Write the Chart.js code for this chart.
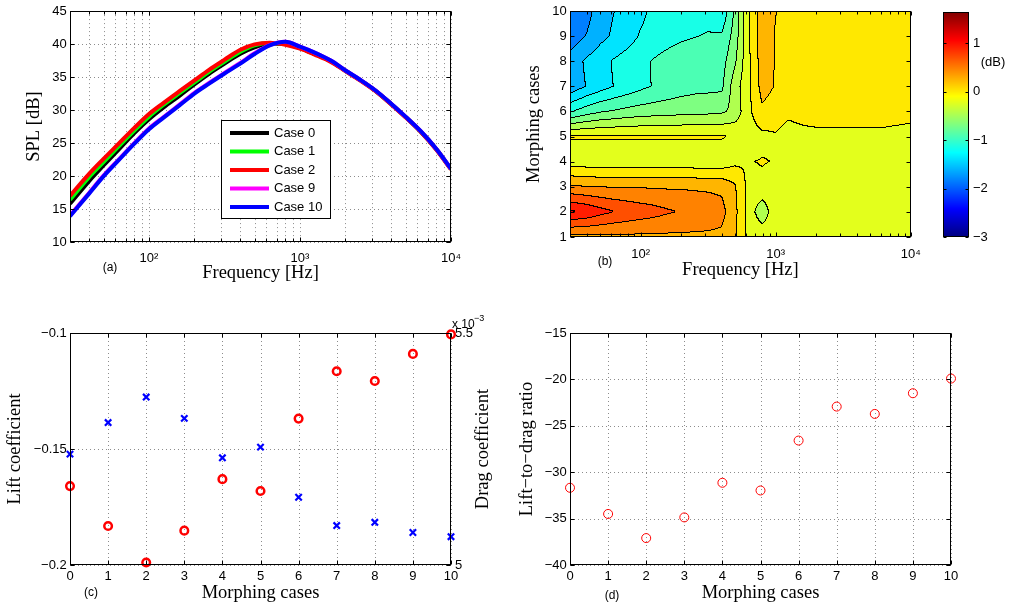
<!DOCTYPE html>
<html>
<head>
<meta charset="utf-8">
<title>Morphing cases - SPL and aerodynamic coefficients</title>
<script src="https://cdn.jsdelivr.net/npm/chart.js@4.4.1/dist/chart.umd.min.js"></script>
<style>
  body { margin: 0; background: #fff; width: 1011px; height: 610px; position: relative; overflow: hidden; }
  canvas { position: absolute; }
</style>
</head>
<body>
<canvas id="splChart" width="505" height="300" style="left:0px;top:0px"></canvas>
<canvas id="diffChart" width="425" height="300" style="left:505px;top:0px"></canvas>
<canvas id="barChart" width="81" height="300" style="left:930px;top:0px"></canvas>
<canvas id="coeffChart" width="505" height="310" style="left:0px;top:300px"></canvas>
<canvas id="ratioChart" width="506" height="310" style="left:505px;top:300px"></canvas>
<script>
// ---- (a) SPL spectra ----
const freqs = [30, 40, 50, 63, 80, 100, 125, 160, 200, 250, 315, 400, 500, 630, 800, 1000, 1250, 1600, 2000, 2500, 3150, 4000, 5000, 6300, 8000, 10000];
const splCase0 = [15.8, 19.2, 21.6, 24.0, 26.5, 28.6, 30.4, 32.2, 33.9, 35.5, 37.0, 38.5, 39.5, 40.1, 40.0, 39.4, 38.5, 37.4, 35.95, 34.55, 32.95, 30.95, 28.95, 26.75, 24.05, 21.05];
const splCase1 = [16.4, 19.8, 22.1, 24.5, 26.9, 29.0, 30.8, 32.6, 34.2, 35.8, 37.3, 38.8, 39.8, 40.15, 40.0, 39.4, 38.5, 37.4, 35.95, 34.55, 32.95, 30.95, 28.95, 26.75, 24.05, 21.05];
const splCase2 = [17.0, 20.3, 22.6, 24.9, 27.3, 29.4, 31.1, 32.9, 34.5, 36.1, 37.6, 39.1, 39.95, 40.2, 39.9, 39.3, 38.4, 37.3, 35.9, 34.5, 32.9, 30.9, 28.9, 26.7, 24.0, 21.0];
const splCase9 = [14.0, 17.4, 20.05, 22.5, 25.0, 27.2, 28.95, 30.85, 32.6, 34.1, 35.6, 37.1, 38.6, 39.85, 40.35, 39.6, 38.7, 37.5, 36.0, 34.6, 33.0, 31.0, 29.0, 26.8, 24.1, 21.1];
const splCase10 = [13.9, 17.3, 19.95, 22.4, 24.9, 27.1, 28.85, 30.75, 32.5, 34.0, 35.5, 37.0, 38.5, 39.8, 40.35, 39.6, 38.7, 37.5, 36.0, 34.6, 33.0, 31.0, 29.0, 26.8, 24.1, 21.1];
const caseLabels = ['Case 0', 'Case 1', 'Case 2', 'Case 9', 'Case 10'];
const caseColors = ['#000000', '#00ff00', '#ff0000', '#ff00ff', '#0000ff'];
const splTicks = [10, 15, 20, 25, 30, 35, 40, 45];
const freqTicks = [100, 1000, 10000];
const freqTickLabels = ['10\u00b2', '10\u00b3', '10\u2074'];

// ---- (b) SPL difference map (dB), one row per morphing case ----
const morphCases = [1, 2, 3, 4, 5, 6, 7, 8, 9, 10];
const diffCase1 = [0.41, 0.42, 0.43, 0.43, 0.43, 0.43, 0.43, 0.43, 0.43, 0.43, 0.43, 0.42, 0.28, -0.06, -0.02, -0.10, -0.10, -0.10, -0.10, -0.10, -0.10, -0.10, -0.10, -0.10, -0.10, -0.10];
const diffCase2 = [1.20, 1.12, 1.02, 0.94, 0.88, 0.83, 0.79, 0.73, 0.69, 0.65, 0.61, 0.55, 0.31, -0.06, -0.40, -0.04, -0.10, -0.10, -0.10, -0.10, -0.10, -0.10, -0.10, -0.10, -0.10, -0.10];
const diffCase3 = [0.50, 0.47, 0.46, 0.455, 0.45, 0.45, 0.445, 0.44, 0.44, 0.435, 0.43, 0.42, 0.27, -0.06, -0.03, -0.10, -0.10, -0.10, -0.10, -0.10, -0.10, -0.10, -0.10, -0.10, -0.10, -0.10];
const diffCase4 = [-0.12, -0.13, -0.14, -0.14, -0.14, -0.14, -0.14, -0.14, -0.14, -0.15, -0.15, -0.15, -0.05, 0.0, 0.02, 0.0, -0.10, -0.10, -0.10, -0.10, -0.10, -0.10, -0.10, -0.10, -0.10, -0.10];
const diffCase5 = [0.03, 0.03, 0.03, 0.03, 0.03, 0.03, 0.03, 0.03, 0.03, 0.03, 0.03, 0.03, -0.03, -0.10, -0.05, -0.01, -0.10, -0.06, -0.04, -0.04, -0.04, -0.04, -0.04, -0.04, -0.06, -0.08];
const diffCase6 = [-0.95, -0.80, -0.72, -0.67, -0.62, -0.59, -0.57, -0.555, -0.54, -0.53, -0.52, -0.50, -0.38, -0.05, 0.20, 0.12, 0.07, 0.10, 0.10, 0.10, 0.10, 0.10, 0.10, 0.10, 0.10, 0.09];
const diffCase7 = [-1.556, -1.37, -1.26, -1.15, -1.07, -0.98, -0.905, -0.84, -0.79, -0.76, -0.75, -0.74, -0.33, -0.06, 0.33, 0.23, 0.12, 0.12, 0.12, 0.12, 0.12, 0.12, 0.12, 0.12, 0.12, 0.12];
const diffCase8 = [-1.53, -1.34, -1.25, -1.13, -1.05, -0.97, -0.90, -0.82, -0.76, -0.74, -0.73, -0.78, -0.50, -0.05, 0.36, 0.23, 0.13, 0.13, 0.13, 0.13, 0.13, 0.13, 0.13, 0.13, 0.13, 0.13];
const diffCase9 = [-1.75, -1.60, -1.45, -1.35, -1.25, -1.13, -1.08, -1.02, -0.97, -0.93, -0.90, -0.89, -0.60, -0.04, 0.38, 0.23, 0.14, 0.13, 0.13, 0.13, 0.13, 0.13, 0.13, 0.13, 0.13, 0.13];
const diffCase10 = [-1.85, -1.70, -1.50, -1.39, -1.30, -1.20, -1.10, -1.05, -1.02, -1.00, -1.00, -1.12, -0.647, -0.02, 0.38, 0.25, 0.15, 0.13, 0.13, 0.13, 0.13, 0.13, 0.13, 0.13, 0.13, 0.13];
const splDiff = [diffCase1, diffCase2, diffCase3, diffCase4, diffCase5, diffCase6, diffCase7, diffCase8, diffCase9, diffCase10];
const contourLevels = [-3.000, -2.769, -2.537, -2.306, -2.074, -1.843, -1.611, -1.380, -1.148, -0.917, -0.685, -0.454, -0.222, 0.009, 0.241, 0.472, 0.704, 0.935, 1.167, 1.398, 1.630];
const colorRange = [-3, 1.646];
const colorTicks = [-3, -2, -1, 0, 1];

// ---- (c), (d) aerodynamic coefficients ----
const cases = [0, 1, 2, 3, 4, 5, 6, 7, 8, 9, 10];
const liftCoeff = [-0.166, -0.1832, -0.1989, -0.1852, -0.163, -0.1681, -0.1369, -0.1165, -0.1207, -0.109, -0.1006];
const dragCoeff = [5.239, 5.307, 5.362, 5.316, 5.231, 5.254, 5.146, 5.085, 5.092, 5.070, 5.061]; // x 10^-3
const ldRatio = [-31.68, -34.5, -37.1, -34.87, -31.14, -31.97, -26.59, -22.93, -23.72, -21.49, -19.91];
const liftTicks = [-0.2, -0.15, -0.1];
const dragTicks = [5, 5.5];
const ratioTicks = [-40, -35, -30, -25, -20, -15];

Chart.defaults.font.family = '"Liberation Sans", Arial, sans-serif';
Chart.defaults.color = '#000';

const SANS = '"Liberation Sans", Arial, sans-serif';
const SERIF = '"Liberation Serif", "Times New Roman", serif';
const tickFont = { family: SANS, size: 13 };
const titleFont = { family: SERIF, size: 18.5 };
const noGrid = { display: false, drawTicks: false };

function fmt(v) {
    return v < 0 ? '\u2212' + String(-v) : String(v);
}

function jet(t) {
    t = Math.min(1, Math.max(0, t));
    const c = k => Math.min(Math.max(1.5 - Math.abs(4 * t - k), 0), 1) * 255;
    return [c(3), c(2), c(1)];
}

// grid lines at every 1..9 x 10^n inside [min, max]
function logGrid(min, max) {
    const out = [];
    for (let d = Math.floor(Math.log10(min)); d <= Math.ceil(Math.log10(max)); d++) {
        for (let m = 1; m < 10; m++) {
            const v = m * Math.pow(10, d);
            if (v > min && v <= max) out.push({ value: v, major: m === 1 });
        }
    }
    return out;
}

function setTicks(list) {
    return axis => { axis.ticks = list.map(v => ({ value: v })); };
}

// dotted grid, box and inward ticks like the original figure
function axesPlugin(cfg) {
    return {
        id: 'matlabAxes',
        beforeDatasetsDraw(chart) {
            const { ctx, chartArea: a } = chart;
            ctx.save();
            ctx.strokeStyle = '#8c8c8c';
            ctx.lineWidth = 1;
            ctx.setLineDash([1, 3]);
            (cfg.grid || []).forEach(id => {
                const s = chart.scales[id];
                s.ticks.forEach(t => {
                    const p = Math.round(s.getPixelForValue(t.value)) + 0.5;
                    ctx.beginPath();
                    if (s.isHorizontal()) { ctx.moveTo(p, a.top); ctx.lineTo(p, a.bottom); }
                    else { ctx.moveTo(a.left, p); ctx.lineTo(a.right, p); }
                    ctx.stroke();
                });
            });
            ctx.restore();
        },
        afterDatasetsDraw(chart) {
            const { ctx, chartArea: a } = chart;
            const L = Math.round(a.left) + 0.5, R = Math.round(a.right) - 0.5;
            const T = Math.round(a.top) + 0.5, B = Math.round(a.bottom) - 0.5;
            ctx.save();
            ctx.strokeStyle = '#000';
            ctx.lineWidth = 1;
            ctx.setLineDash([]);
            (cfg.ticks || []).forEach(([id, sides]) => {
                const s = chart.scales[id];
                s.ticks.forEach(t => {
                    const len = t.major === false ? 3 : (cfg.tickLen || 4);
                    const p = Math.round(s.getPixelForValue(t.value)) + 0.5;
                    ctx.beginPath();
                    if (s.isHorizontal()) {
                        ctx.moveTo(p, B); ctx.lineTo(p, B - len);
                        ctx.moveTo(p, T); ctx.lineTo(p, T + len);
                    } else {
                        if (sides !== 'right') { ctx.moveTo(L, p); ctx.lineTo(L + len, p); }
                        if (sides !== 'left') { ctx.moveTo(R, p); ctx.lineTo(R - len, p); }
                    }
                    ctx.stroke();
                });
            });
            ctx.strokeRect(L, T, R - L, B - T);
            ctx.restore();
        }
    };
}

function textPlugin(items) {
    return {
        id: 'panelText',
        afterDraw(chart) {
            const ctx = chart.ctx;
            ctx.save();
            ctx.fillStyle = '#000';
            items.forEach(it => {
                ctx.save();
                ctx.font = it.font;
                ctx.textAlign = it.align || 'center';
                ctx.textBaseline = it.baseline || 'middle';
                ctx.translate(it.x, it.y);
                if (it.rotate) ctx.rotate(it.rotate);
                ctx.fillText(it.text, 0, 0);
                ctx.restore();
            });
            ctx.restore();
        }
    };
}

const baseOptions = {
    responsive: false,
    animation: false,
    devicePixelRatio: 1,
    events: [],
    plugins: { legend: { display: false }, tooltip: { enabled: false } }
};

// ---------------- (a) ----------------
const splSeries = [splCase0, splCase1, splCase2, splCase9, splCase10];
const legendPlugin = {
    id: 'caseLegend',
    afterDatasetsDraw(chart) {
        const ctx = chart.ctx;
        ctx.save();
        ctx.fillStyle = '#fff';
        ctx.fillRect(221, 120, 109, 98);
        ctx.strokeStyle = '#000';
        ctx.lineWidth = 1;
        ctx.strokeRect(221.5, 120.5, 109, 98);
        chart.data.datasets.forEach((ds, i) => {
            const yy = 133 + i * 18.5;
            ctx.strokeStyle = ds.borderColor;
            ctx.lineWidth = 4;
            ctx.beginPath();
            ctx.moveTo(230, yy);
            ctx.lineTo(269, yy);
            ctx.stroke();
            ctx.fillStyle = '#000';
            ctx.font = '13px ' + SANS;
            ctx.textAlign = 'left';
            ctx.textBaseline = 'middle';
            ctx.fillText(ds.label, 274, yy);
        });
        ctx.restore();
    }
};

new Chart(document.getElementById('splChart'), {
    type: 'scatter',
    data: {
        datasets: splSeries.map((vals, k) => ({
            label: caseLabels[k],
            data: freqs.map((f, i) => ({ x: f, y: vals[i] })),
            showLine: true,
            borderColor: caseColors[k],
            backgroundColor: caseColors[k],
            borderWidth: 4,
            pointRadius: 0,
            cubicInterpolationMode: 'monotone',
            order: splSeries.length - k
        }))
    },
    options: {
        ...baseOptions,
        layout: { padding: { left: 0, right: 54, top: 10, bottom: 0 } },
        scales: {
            x: {
                type: 'logarithmic', min: 30, max: 10000,
                afterBuildTicks: axis => { axis.ticks = logGrid(30, 10000); },
                afterFit: s => { s.height = 58; },
                grid: noGrid, border: { display: false },
                ticks: {
                    font: tickFont, padding: 8.7, autoSkip: false, maxRotation: 0,
                    callback: v => { const i = freqTicks.indexOf(v); return i >= 0 ? freqTickLabels[i] : ''; }
                },
                title: { display: true, text: 'Frequency [Hz]', font: titleFont, padding: { top: 0, bottom: 15.9 } }
            },
            y: {
                min: 10, max: 45,
                afterBuildTicks: setTicks(splTicks),
                afterFit: s => { s.width = 70; },
                grid: noGrid, border: { display: false },
                ticks: { font: tickFont, padding: 3.3, callback: fmt },
                title: { display: true, text: 'SPL [dB]', font: titleFont, padding: { top: 22.7, bottom: 0 } }
            }
        }
    },
    plugins: [
        axesPlugin({ grid: ['x', 'y'], ticks: [['x', 'both'], ['y', 'both']] }),
        legendPlugin,
        textPlugin([{ text: '(a)', x: 110, y: 268, font: '12px ' + SANS }])
    ]
});

// ---------------- (b) ----------------
const contourPlugin = {
    id: 'contourFill',
    beforeDatasetsDraw(chart) {
        const { ctx, chartArea: a, scales: { x, y } } = chart;
        const x0 = Math.round(a.left), y0 = Math.round(a.top);
        const w = Math.round(a.right) - x0, h = Math.round(a.bottom) - y0;
        const logF = freqs.map(f => Math.log10(f));
        const band = new Int16Array(w * h);
        const nLev = contourLevels.length;
        for (let j = 0; j < h; j++) {
            const c = y.getValueForPixel(y0 + j + 0.5);
            const r = Math.min(Math.max(c - morphCases[0], 0), morphCases.length - 1.000001);
            const r0 = Math.floor(r), tr = r - r0;
            const lo = splDiff[r0], hi = splDiff[r0 + 1];
            let k = 0;
            for (let i = 0; i < w; i++) {
                const u = Math.log10(x.getValueForPixel(x0 + i + 0.5));
                while (k < logF.length - 2 && u > logF[k + 1]) k++;
                const t = Math.min(Math.max((u - logF[k]) / (logF[k + 1] - logF[k]), 0), 1);
                const v = (1 - tr) * ((1 - t) * lo[k] + t * lo[k + 1]) + tr * ((1 - t) * hi[k] + t * hi[k + 1]);
                let b = 0;
                while (b < nLev - 1 && v >= contourLevels[b + 1]) b++;
                band[j * w + i] = b;
            }
        }
        const img = ctx.createImageData(w, h);
        const span = colorRange[1] - colorRange[0];
        for (let p = 0; p < w * h; p++) {
            const i = p % w, j = (p - i) / w;
            const b = band[p];
            const edge = (i < w - 1 && band[p + 1] !== b) || (j < h - 1 && band[p + w] !== b);
            const col = edge ? [0, 0, 0] : jet((contourLevels[b] - colorRange[0]) / span);
            img.data[p * 4] = col[0];
            img.data[p * 4 + 1] = col[1];
            img.data[p * 4 + 2] = col[2];
            img.data[p * 4 + 3] = 255;
        }
        ctx.putImageData(img, x0, y0);
    }
};

new Chart(document.getElementById('diffChart'), {
    type: 'scatter',
    data: { datasets: [] },
    options: {
        ...baseOptions,
        layout: { padding: { left: 0, right: 7, top: 10, bottom: 0 } },
        scales: {
            x: {
                type: 'logarithmic', min: 30, max: 10000,
                afterBuildTicks: axis => { axis.ticks = logGrid(30, 10000); },
                afterFit: s => { s.height = 63; },
                grid: noGrid, border: { display: false },
                ticks: {
                    font: tickFont, padding: 9.2, autoSkip: false, maxRotation: 0,
                    callback: v => { const i = freqTicks.indexOf(v); return i >= 0 ? freqTickLabels[i] : ''; }
                },
                title: { display: true, text: 'Frequency [Hz]', font: titleFont, padding: { top: 0, bottom: 19.2 } }
            },
            y: {
                min: 1, max: 10,
                afterBuildTicks: setTicks(morphCases),
                afterFit: s => { s.width = 65; },
                grid: noGrid, border: { display: false },
                ticks: { font: tickFont, padding: 3.3, callback: fmt },
                title: { display: true, text: 'Morphing cases', font: titleFont, padding: { top: 17.7, bottom: 0 } }
            }
        }
    },
    plugins: [
        contourPlugin,
        axesPlugin({ ticks: [['x', 'both'], ['y', 'both']] }),
        textPlugin([{ text: '(b)', x: 100, y: 262, font: '12px ' + SANS }])
    ]
});

// colour bar
const colorBarPlugin = {
    id: 'colorBar',
    beforeDatasetsDraw(chart) {
        const { ctx, chartArea: a, scales: { y } } = chart;
        const span = colorRange[1] - colorRange[0];
        for (let py = Math.round(a.top); py < Math.round(a.bottom); py++) {
            const v = y.getValueForPixel(py + 0.5);
            const [r, g, b] = jet((v - colorRange[0]) / span);
            ctx.fillStyle = 'rgb(' + Math.round(r) + ',' + Math.round(g) + ',' + Math.round(b) + ')';
            ctx.fillRect(a.left, py, a.right - a.left, 1);
        }
    }
};

new Chart(document.getElementById('barChart'), {
    type: 'scatter',
    data: { datasets: [] },
    options: {
        ...baseOptions,
        layout: { padding: { left: 13, right: 0, top: 10, bottom: 63 } },
        scales: {
            x: { display: false, min: 0, max: 1 },
            y: {
                position: 'right', min: colorRange[0], max: colorRange[1],
                afterBuildTicks: setTicks(colorTicks),
                afterFit: s => { s.width = 42; },
                grid: noGrid, border: { display: false },
                ticks: { font: tickFont, padding: 4, callback: fmt }
            }
        }
    },
    plugins: [
        colorBarPlugin,
        axesPlugin({ ticks: [['y', 'both']], tickLen: 3 }),
        textPlugin([{ text: '(dB)', x: 63, y: 62, font: '13px ' + SANS }])
    ]
});

// ---------------- (c) ----------------
new Chart(document.getElementById('coeffChart'), {
    type: 'scatter',
    data: {
        datasets: [
            {
                label: 'Lift coefficient',
                data: cases.map((c, i) => ({ x: c, y: liftCoeff[i] })),
                yAxisID: 'y',
                pointStyle: 'circle',
                pointRadius: 3.8,
                pointBorderWidth: 2.5,
                borderColor: '#ff0000',
                backgroundColor: 'rgba(0,0,0,0)',
                clip: false
            },
            {
                label: 'Drag coefficient',
                data: cases.map((c, i) => ({ x: c, y: dragCoeff[i] })),
                yAxisID: 'y2',
                pointStyle: 'crossRot',
                pointRadius: 4.5,
                pointBorderWidth: 2.2,
                borderColor: '#0000ff',
                backgroundColor: '#0000ff',
                clip: false
            }
        ]
    },
    options: {
        ...baseOptions,
        layout: { padding: { left: 0, right: 0, top: 33, bottom: 0 } },
        scales: {
            x: {
                min: 0, max: 10,
                afterBuildTicks: setTicks(cases),
                afterFit: s => { s.height = 45; },
                grid: noGrid, border: { display: false },
                ticks: { font: tickFont, padding: 3.4, autoSkip: false, maxRotation: 0, callback: fmt },
                title: { display: true, text: 'Morphing cases', font: titleFont, padding: { top: 0, bottom: 5.9 } }
            },
            y: {
                min: -0.2, max: -0.1,
                afterBuildTicks: setTicks(liftTicks),
                afterFit: s => { s.width = 70; },
                grid: noGrid, border: { display: false },
                ticks: { font: tickFont, padding: 3.3, callback: fmt },
                title: { display: true, text: 'Lift coefficient', font: titleFont, padding: { top: 4.2, bottom: 0 } }
            },
            y2: {
                position: 'right', min: 5, max: 5.5,
                afterBuildTicks: setTicks(dragTicks),
                afterFit: s => { s.width = 54; },
                grid: noGrid, border: { display: false },
                ticks: { font: tickFont, padding: 4, callback: fmt }
            }
        }
    },
    plugins: [
        axesPlugin({ grid: ['x', 'y'], ticks: [['x', 'both'], ['y', 'left'], ['y2', 'right']] }),
        textPlugin([
            { text: '(c)', x: 91, y: 293, font: '12px ' + SANS },
            { text: 'x 10', x: 452, y: 28, font: '12px ' + SANS, align: 'left', baseline: 'alphabetic' },
            { text: '\u22123', x: 474, y: 21, font: '9px ' + SANS, align: 'left', baseline: 'alphabetic' },
            { text: 'Drag coefficient', x: 482.8, y: 149, font: '18.5px ' + SERIF, rotate: -Math.PI / 2 }
        ])
    ]
});

// ---------------- (d) ----------------
new Chart(document.getElementById('ratioChart'), {
    type: 'scatter',
    data: {
        datasets: [{
            label: 'Lift-to-drag ratio',
            data: cases.map((c, i) => ({ x: c, y: ldRatio[i] })),
            pointStyle: 'circle',
            pointRadius: 4.5,
            pointBorderWidth: 1,
            borderColor: '#ff0000',
            backgroundColor: 'rgba(0,0,0,0)',
            clip: false
        }]
    },
    options: {
        ...baseOptions,
        layout: { padding: { left: 0, right: 60, top: 33, bottom: 0 } },
        scales: {
            x: {
                min: 0, max: 10,
                afterBuildTicks: setTicks(cases),
                afterFit: s => { s.height = 45; },
                grid: noGrid, border: { display: false },
                ticks: { font: tickFont, padding: 3.4, autoSkip: false, maxRotation: 0, callback: fmt },
                title: { display: true, text: 'Morphing cases', font: titleFont, padding: { top: 0, bottom: 5.9 } }
            },
            y: {
                min: -40, max: -15,
                afterBuildTicks: setTicks(ratioTicks),
                afterFit: s => { s.width = 65; },
                grid: noGrid, border: { display: false },
                ticks: { font: tickFont, padding: 3.3, callback: fmt },
                title: { display: true, text: 'Lift\u2212to\u2212drag ratio', font: titleFont, padding: { top: 10.7, bottom: 0 } }
            }
        }
    },
    plugins: [
        axesPlugin({ grid: ['x', 'y'], ticks: [['x', 'both'], ['y', 'both']] }),
        textPlugin([{ text: '(d)', x: 107, y: 296, font: '12px ' + SANS }])
    ]
});
</script>
</body>
</html>
